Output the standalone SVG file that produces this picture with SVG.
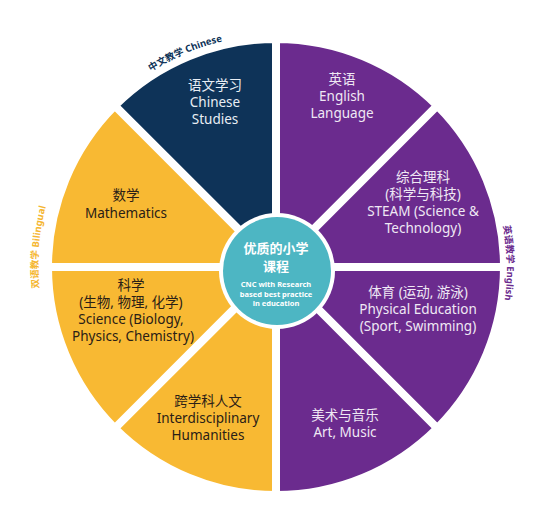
<svg xmlns="http://www.w3.org/2000/svg" width="554" height="520" viewBox="0 0 554 520">
  <style>
    .seg { stroke: #ffffff; stroke-width: 8; stroke-linejoin: round; }
    .navy { fill: #0e3358; }
    .purple { fill: #6b2b8e; }
    .yellow { fill: #f8b933; }
    .t { font-family: "Noto Sans", "Open Sans", "Noto Sans CJK SC", sans-serif; font-size: 13.5px; text-anchor: middle; }
    .light { fill: #efe8f4; }
    .lightn { fill: #e9eef4; }
    .dark { fill: #2a2016; }
    .ctr { font-family: "Noto Sans", "Noto Sans CJK SC", sans-serif; fill: #ffffff; text-anchor: middle; font-weight: bold; }
    .arc { font-family: "Noto Sans", "Noto Sans CJK SC", sans-serif; font-size: 9.5px; font-weight: bold; }
  </style>
  <defs>
    <path id="arcTop" d="M90.72,127.38 A232,232 0 0 1 304.27,36.73"/>
    <path id="arcLeft" d="M60.7,368.3 A238,238 0 0 1 80.6,131.2"/>
    <path id="arcRight" d="M474,148 A231,231 0 0 1 478,379"/>
  </defs>
  <rect width="554" height="520" fill="#ffffff"/>

  <g id="chinese">
    <path class="seg navy" d="M276,267 L114.78,105.78 A228,228 0 0 1 276,39 Z"/>
    <text class="t lightn" x="215" y="90">语文学习</text>
    <text class="t lightn" x="215" y="107">Chinese</text>
    <text class="t lightn" x="215" y="124">Studies</text>
  </g>
  <g id="english">
    <path class="seg purple" d="M276,267 L276,39 A228,228 0 0 1 437.22,105.78 Z"/>
    <text class="t light" x="342" y="84">英语</text>
    <text class="t light" x="342" y="101">English</text>
    <text class="t light" x="342" y="118">Language</text>
  </g>
  <g id="steam">
    <path class="seg purple" d="M276,267 L437.22,105.78 A228,228 0 0 1 504,267 Z"/>
    <text class="t light" x="423" y="182">综合理科</text>
    <text class="t light" x="423" y="199">(科学与科技)</text>
    <text class="t light" x="423" y="216">STEAM (Science &amp;</text>
    <text class="t light" x="423" y="233">Technology)</text>
  </g>
  <g id="pe">
    <path class="seg purple" d="M276,267 L504,267 A228,228 0 0 1 437.22,428.22 Z"/>
    <text class="t light" x="418" y="297">体育 (运动, 游泳)</text>
    <text class="t light" x="418" y="314">Physical Education</text>
    <text class="t light" x="418" y="331">(Sport, Swimming)</text>
  </g>
  <g id="art">
    <path class="seg purple" d="M276,267 L437.22,428.22 A228,228 0 0 1 276,495 Z"/>
    <text class="t light" x="345" y="420">美术与音乐</text>
    <text class="t light" x="345" y="437">Art, Music</text>
  </g>
  <g id="humanities">
    <path class="seg yellow" d="M276,267 L276,495 A228,228 0 0 1 114.78,428.22 Z"/>
    <text class="t dark" x="208" y="406">跨学科人文</text>
    <text class="t dark" x="208" y="423">Interdisciplinary</text>
    <text class="t dark" x="208" y="440">Humanities</text>
  </g>
  <g id="science">
    <path class="seg yellow" d="M276,267 L114.78,428.22 A228,228 0 0 1 48,267 Z"/>
    <text class="t dark" x="131" y="290">科学</text>
    <text class="t dark" x="131" y="307">(生物, 物理, 化学)</text>
    <text class="t dark" x="131" y="324">Science (Biology,</text>
    <text class="t dark" x="133" y="341">Physics, Chemistry)</text>
  </g>
  <g id="maths">
    <path class="seg yellow" d="M276,267 L48,267 A228,228 0 0 1 114.78,105.78 Z"/>
    <text class="t dark" x="126" y="200">数学</text>
    <text class="t dark" x="126" y="218">Mathematics</text>
  </g>

  <g id="centre">
    <circle cx="277" cy="271" r="58" fill="#ffffff"/>
    <circle cx="277" cy="271" r="54" fill="#4db6c3"/>
    <text class="ctr" x="276" y="253" font-size="13">优质的小学</text>
    <text class="ctr" x="276" y="271" font-size="13">课程</text>
    <text class="ctr" x="276" y="287" font-size="7.5">CNC with Research</text>
    <text class="ctr" x="276" y="297" font-size="7.5">based best practice</text>
    <text class="ctr" x="276" y="306" font-size="7.5">in education</text>
  </g>

  <g id="labels">
    <text class="arc" fill="#0e3358" font-size="10"><textPath href="#arcTop" startOffset="50%" text-anchor="middle">中文教学 Chinese</textPath></text>
    <text class="arc" fill="#f5b630"><textPath href="#arcLeft" startOffset="50%" text-anchor="middle">双语教学 Bilingual</textPath></text>
    <text class="arc" fill="#6b2b8e"><textPath href="#arcRight" startOffset="50%" text-anchor="middle">英语教学 English</textPath></text>
  </g>
  <g id="connectors"></g>
</svg>
